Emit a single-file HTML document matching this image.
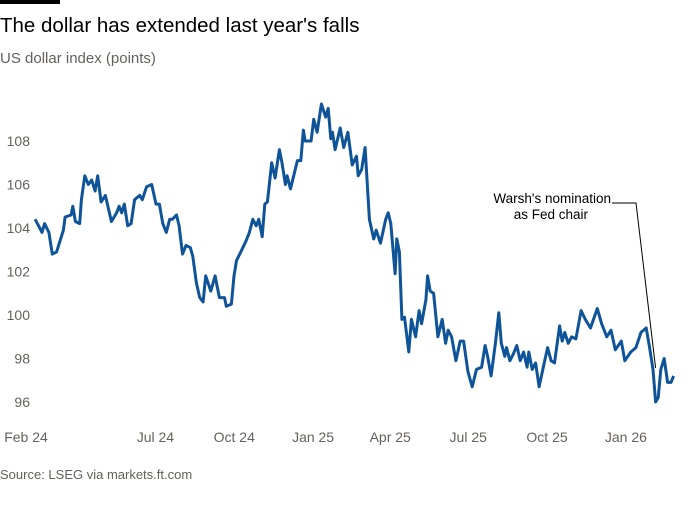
<!DOCTYPE html>
<html><head><meta charset="utf-8"><style>
body{margin:0;background:#fff;width:700px;height:500px;overflow:hidden;font-family:"Liberation Sans",sans-serif}
</style></head><body>
<svg width="700" height="500" xmlns="http://www.w3.org/2000/svg" id="svg">
<rect x="0" y="0" width="60" height="4" fill="#000"/>
<text x="0" y="32" font-size="20.5" fill="#000">The dollar has extended last year's falls</text>
<text x="0" y="63" font-size="15" fill="#66605c">US dollar index (points)</text>
<text x="0" y="479" font-size="13" fill="#66605c">Source: LSEG via markets.ft.com</text>
<g id="axes"></g>
<path id="line" fill="none" stroke="#0f5499" stroke-width="3" stroke-linejoin="round"/>
<text x="611" y="203" font-size="13.5" text-anchor="end" fill="#000">Warsh's nomination</text>
<text x="588" y="219" font-size="13.5" text-anchor="end" fill="#000">as Fed chair</text>
<polyline id="annot" fill="none" stroke="#000" stroke-width="1"/>
</svg>
<script>
const days=[6,10,14,17,22,26,31,35,39,41,48,50,53,58,60,64,68,72,76,79,83,88,95,101,104,107,110,114,118,122,128,131,136,142,147,151,155,159,163,166,171,174,178,182,187,190,194,198,202,205,211,216,221,227,229,235,238,241,246,252,256,260,264,267,271,274,277,282,286,291,294,298,300,304,312,316,319,321,328,331,335,340,345,348,351,353,356,362,366,371,376,381,383,387,391,396,401,404,409,415,418,421,426,428,431,434,437,442,445,450,454,457,462,464,467,471,476,481,485,488,492,497,502,506,511,516,521,527,531,534,538,543,547,550,554,556,560,564,568,572,576,580,582,586,590,594,599,604,608,612,618,621,624,628,632,637,643,648,654,662,667,673,678,683,690,694,701,707,713,719,723,727,730,733,736,740,744,748,751];
const values=[104.4,104.1,103.8,104.2,103.8,102.8,102.9,103.4,103.9,104.5,104.6,105.0,104.3,104.2,105.3,106.4,106.0,106.2,105.7,106.4,105.2,105.5,104.3,104.7,105.0,104.7,105.1,104.1,104.2,105.3,105.5,105.3,105.9,106.0,105.1,105.1,104.2,103.8,104.4,104.4,104.6,104.1,102.8,103.2,103.1,102.7,101.5,100.8,100.6,101.8,101.1,101.8,100.8,100.8,100.4,100.5,101.8,102.5,102.9,103.4,103.8,104.4,104.1,104.4,103.6,105.1,105.2,107.0,106.3,107.6,107.0,106.0,106.4,105.8,107.1,107.1,108.5,108.0,108.0,109.0,108.4,109.7,109.1,109.5,108.1,108.4,107.6,108.6,107.7,108.4,106.9,107.3,106.4,106.7,107.7,104.4,103.5,103.9,103.3,104.4,104.7,104.2,101.9,103.5,102.9,99.8,99.9,98.3,99.8,99.0,100.2,99.6,100.7,101.8,101.1,101.0,99.0,99.8,98.7,99.3,99.0,97.9,98.8,98.8,97.4,96.7,97.5,97.6,98.6,98.1,97.2,98.7,100.1,98.7,98.1,98.5,97.9,98.2,98.6,97.9,98.3,97.6,98.3,97.5,97.8,96.7,97.6,98.5,97.9,97.8,99.5,98.8,99.2,98.7,99.0,98.9,100.2,99.8,99.4,100.3,99.6,99.0,99.3,98.4,98.8,97.9,98.3,98.5,99.2,99.4,98.5,97.5,96.0,96.2,97.5,98.0,96.9,96.9,97.2];
const yTicks=[96,98,100,102,104,106,108];
const xTickDays=[0,151,243,335,425,516,608,700];
const xTickLabels=["Feb 24","Jul 24","Oct 24","Jan 25","Apr 25","Jul 25","Oct 25","Jan 26"];
const annotDay=730, annotValue=97.2;
const X=d=>30+d*0.857;
const Y=v=>141+(108-v)*21.75;
const ns="http://www.w3.org/2000/svg";
const ax=document.getElementById('axes');
yTicks.forEach(t=>{const e=document.createElementNS(ns,'text');


e.setAttribute('x',30);e.setAttribute('y',Y(t)+5);e.setAttribute('text-anchor','end');
e.setAttribute('font-size','14');e.setAttribute('fill','#66605c');e.textContent=t;ax.appendChild(e);});
xTickDays.forEach((d,i)=>{const e=document.createElementNS(ns,'text');


e.setAttribute('x',X(d)-4);e.setAttribute('y',442);e.setAttribute('text-anchor','middle');
e.setAttribute('font-size','14');e.setAttribute('fill','#66605c');e.textContent=xTickLabels[i];ax.appendChild(e);});
document.getElementById('line').setAttribute('d',days.map((d,i)=>(i?'L':'M')+X(d).toFixed(1)+','+Y(values[i]).toFixed(1)).join(''));
document.getElementById('annot').setAttribute('points',`612,203 636,203 ${X(annotDay).toFixed(1)},${(Y(annotValue)-8).toFixed(1)}`);
</script>
</body></html>
